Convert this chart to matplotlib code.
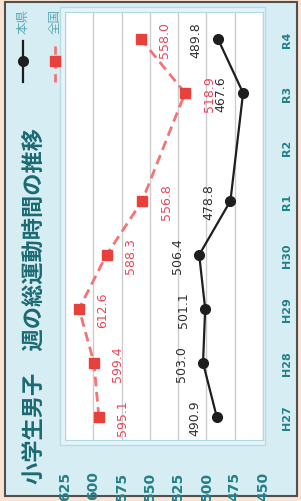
import matplotlib
matplotlib.use("agg")
import matplotlib.pyplot as plt
from matplotlib.patches import Rectangle
from matplotlib.lines import Line2D
import numpy as np

plt.rcParams["font.family"] = ["Noto Sans CJK JP", "DejaVu Sans"]

# Data (chart is drawn turned a quarter turn, as in the reference)
categories = ["H27", "H28", "H29", "H30", "R1", "R2", "R3", "R4"]
ken = [490.9, 503.0, 501.1, 506.4, 478.8, np.nan, 467.6, 489.8]
zenkoku = [595.1, 599.4, 612.6, 588.3, 556.8, np.nan, 518.9, 558.0]
value_ticks = [625, 600, 575, 550, 525, 500, 475, 450]
series_names = ["本県", "全国"]
title = "小学生男子　週の総運動時間の推移"

W, H = 301, 502
fig = plt.figure(figsize=(W / 100, H / 100), dpi=100)
fig.patch.set_facecolor("#fbe2d2")


def box(x0, y0, x1, y1):
    # pixel box (top-left origin) -> figure fraction
    return [x0 / W, 1 - y1 / H, (x1 - x0) / W, (y1 - y0) / H]


def fx(x):
    return x / W


def fy(y):
    return 1 - y / H


l, b, w, h = box(5, 3, 297, 497)
fig.patches.append(Rectangle((l, b), w, h, transform=fig.transFigure,
                             facecolor="#d6edf3", edgecolor="#505050",
                             lw=1.5, zorder=-3))
l, b, w, h = box(60, 8, 265, 446)
fig.patches.append(Rectangle((l, b), w, h, transform=fig.transFigure,
                             facecolor="#e6f4f8", edgecolor="#b5dbe5",
                             lw=1, zorder=-2))

ax = fig.add_axes(box(65, 13, 263, 441))
ax.set_facecolor("white")
for s in ax.spines.values():
    s.set_color("#b0d8e3")

pos = np.arange(len(categories))
ken_a = np.array(ken)
zen_a = np.array(zenkoku)
mk = ~np.isnan(ken_a)
mz = ~np.isnan(zen_a)

ax.plot(zen_a[mz], pos[mz], color="#f27474", ls=(0, (3.5, 2)), lw=2,
        marker="s", ms=7.5, mfc="#e8413c", mec="#e8413c", zorder=3)
ax.plot(ken_a[mk], pos[mk], color="#1e1e1e", lw=1.6,
        marker="o", ms=7, zorder=4)

for i in pos[mk]:
    ax.annotate(f"{ken_a[i]:.1f}", (ken_a[i], i), xytext=(-22, 0),
                textcoords="offset pixels", rotation=90, ha="center",
                va="center", fontsize=9, color="#303030",
                family="DejaVu Sans")
for i in pos[mz]:
    ax.annotate(f"{zen_a[i]:.1f}", (zen_a[i], i), xytext=(24, 0),
                textcoords="offset pixels", rotation=90, ha="center",
                va="center", fontsize=9, color="#e8475a",
                family="DejaVu Sans")

ax.set_xlim(625, 450)
ax.set_ylim(-0.43, 7.5)
ax.set_xticks(value_ticks)
ax.set_xticklabels([str(v) for v in value_ticks], rotation=90,
                   fontsize=10, fontweight="bold", color="#237f86",
                   family="DejaVu Sans")
ax.tick_params(axis="x", length=0, pad=22)
ax.set_yticks(pos)
ax.yaxis.tick_right()
ax.set_yticklabels(categories, rotation=90, fontsize=8, fontweight="bold",
                   color="#237f86", family="DejaVu Sans", va="center")
ax.tick_params(axis="y", length=0, pad=14)
ax.grid(axis="x", color="#cccccc", lw=1)
ax.set_axisbelow(True)

# title
fig.text(fx(34), fy(484), title, rotation=90, ha="center", va="bottom",
         fontsize=16, fontweight="bold", color="#1b6a72")

# legend
fig.add_artist(Line2D([fx(23), fx(23)], [fy(83), fy(42)],
                      transform=fig.transFigure, color="#1e1e1e", lw=1.6))
fig.add_artist(Line2D([fx(23)], [fy(62)], transform=fig.transFigure,
                      marker="o", ms=7, color="#1e1e1e"))
fig.add_artist(Line2D([fx(55), fx(55)], [fy(83), fy(42)],
                      transform=fig.transFigure, color="#f27474", lw=2,
                      ls=(0, (3, 2))))
fig.add_artist(Line2D([fx(55)], [fy(62)], transform=fig.transFigure,
                      marker="s", ms=7.5, color="#e8413c"))
fig.text(fx(23), fy(9), series_names[0], rotation=90, ha="center",
         va="top", fontsize=9, color="#5aa9b4")
fig.text(fx(55), fy(9), series_names[1], rotation=90, ha="center",
         va="top", fontsize=9, color="#5aa9b4")

fig.savefig("out.png", dpi=100, facecolor=fig.get_facecolor())
